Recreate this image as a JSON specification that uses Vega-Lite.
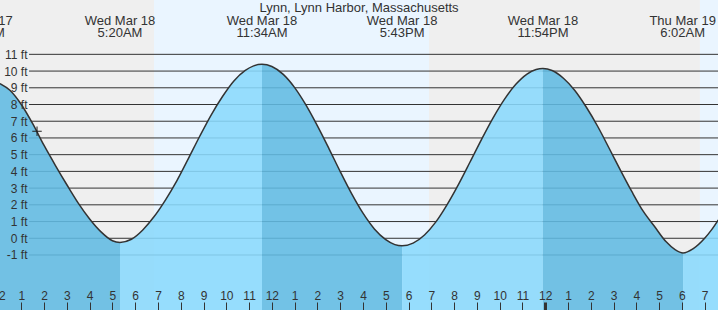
{
  "$schema": "https://vega.github.io/schema/vega-lite/v6.json",
  "width": 718,
  "height": 310,
  "autosize": "none",
  "padding": 0,
  "background": "#ffffff",
  "config": {"view": {"stroke": null}, "font": "Liberation Sans"},
  "datasets": {
    "bands": [
      {"start": -1, "end": 6.825, "period": "night"},
      {"start": 6.825, "end": 18.9, "period": "day"},
      {"start": 18.9, "end": 30.79, "period": "night"},
      {"start": 30.79, "end": 32, "period": "day"}
    ],
    "grid": [{"ft": -1}, {"ft": 0}, {"ft": 1}, {"ft": 2}, {"ft": 3}, {"ft": 4}, {"ft": 5}, {"ft": 6}, {"ft": 7}, {"ft": 8}, {"ft": 9}, {"ft": 10}, {"ft": 11}],
    "heading": [{"t": 15.825, "label": "Lynn, Lynn Harbor, Massachusetts"}],
    "events": [
      {"t": -0.82, "label": "Tue Mar 17\n11:11PM"},
      {"t": 5.333, "label": "Wed Mar 18\n5:20AM"},
      {"t": 11.567, "label": "Wed Mar 18\n11:34AM"},
      {"t": 17.717, "label": "Wed Mar 18\n5:43PM"},
      {"t": 23.9, "label": "Wed Mar 18\n11:54PM"},
      {"t": 30.033, "label": "Thu Mar 19\n6:02AM"}
    ],
    "curve": [
      {"t": 0.065, "ft": 9.25}, {"t": 0.5, "ft": 8.85}, {"t": 1.0, "ft": 8.0}, {"t": 1.5, "ft": 6.85}, {"t": 2.0, "ft": 5.55}, {"t": 2.5, "ft": 4.35}, {"t": 3.0, "ft": 3.2}, {"t": 3.5, "ft": 2.1}, {"t": 4.0, "ft": 1.15}, {"t": 4.5, "ft": 0.38}, {"t": 5.0, "ft": -0.15}, {"t": 5.333, "ft": -0.25},
      {"t": 5.833, "ft": -0.06}, {"t": 6.333, "ft": 0.5}, {"t": 6.833, "ft": 1.3}, {"t": 7.333, "ft": 2.3}, {"t": 7.833, "ft": 3.45}, {"t": 8.333, "ft": 4.76}, {"t": 8.833, "ft": 6.1}, {"t": 9.333, "ft": 7.37}, {"t": 9.833, "ft": 8.48}, {"t": 10.333, "ft": 9.41}, {"t": 10.833, "ft": 10.04}, {"t": 11.2, "ft": 10.31}, {"t": 11.567, "ft": 10.4},
      {"t": 12.0, "ft": 10.27}, {"t": 12.5, "ft": 9.8}, {"t": 13.0, "ft": 9.01}, {"t": 13.5, "ft": 7.96}, {"t": 14.0, "ft": 6.72}, {"t": 14.5, "ft": 5.38}, {"t": 15.0, "ft": 3.99}, {"t": 15.5, "ft": 2.67}, {"t": 16.0, "ft": 1.5}, {"t": 16.5, "ft": 0.56}, {"t": 17.0, "ft": -0.08}, {"t": 17.4, "ft": -0.38}, {"t": 17.717, "ft": -0.45},
      {"t": 18.2, "ft": -0.29}, {"t": 18.7, "ft": 0.2}, {"t": 19.2, "ft": 0.98}, {"t": 19.7, "ft": 2.03}, {"t": 20.2, "ft": 3.24}, {"t": 20.7, "ft": 4.56}, {"t": 21.2, "ft": 5.9}, {"t": 21.7, "ft": 7.17}, {"t": 22.2, "ft": 8.29}, {"t": 22.7, "ft": 9.19}, {"t": 23.2, "ft": 9.82}, {"t": 23.6, "ft": 10.09}, {"t": 23.9, "ft": 10.15},
      {"t": 24.3, "ft": 10.03}, {"t": 24.8, "ft": 9.57}, {"t": 25.3, "ft": 8.84}, {"t": 25.8, "ft": 7.85}, {"t": 26.3, "ft": 6.7}, {"t": 26.8, "ft": 5.4}, {"t": 27.3, "ft": 4.08}, {"t": 27.8, "ft": 2.8}, {"t": 28.3, "ft": 1.62}, {"t": 28.8, "ft": 0.7}, {"t": 29.3, "ft": -0.2}, {"t": 29.7, "ft": -0.68}, {"t": 30.05, "ft": -0.88},
      {"t": 30.5, "ft": -0.62}, {"t": 31.0, "ft": 0.0}, {"t": 31.3, "ft": 0.5}, {"t": 31.6, "ft": 1.1}
    ],
    "water": [
      {"seg": "e0", "t": 0.065, "ft": 9.25}, {"seg": "e0", "t": 0.5, "ft": 8.85}, {"seg": "e0", "t": 1.0, "ft": 8.0}, {"seg": "e0", "t": 1.5, "ft": 6.85}, {"seg": "e0", "t": 2.0, "ft": 5.55}, {"seg": "e0", "t": 2.5, "ft": 4.35}, {"seg": "e0", "t": 3.0, "ft": 3.2}, {"seg": "e0", "t": 3.5, "ft": 2.1}, {"seg": "e0", "t": 4.0, "ft": 1.15}, {"seg": "e0", "t": 4.5, "ft": 0.38}, {"seg": "e0", "t": 5.0, "ft": -0.15}, {"seg": "e0", "t": 5.333, "ft": -0.25},
      {"seg": "f1", "t": 5.333, "ft": -0.25}, {"seg": "f1", "t": 5.833, "ft": -0.06}, {"seg": "f1", "t": 6.333, "ft": 0.5}, {"seg": "f1", "t": 6.833, "ft": 1.3}, {"seg": "f1", "t": 7.333, "ft": 2.3}, {"seg": "f1", "t": 7.833, "ft": 3.45}, {"seg": "f1", "t": 8.333, "ft": 4.76}, {"seg": "f1", "t": 8.833, "ft": 6.1}, {"seg": "f1", "t": 9.333, "ft": 7.37}, {"seg": "f1", "t": 9.833, "ft": 8.48}, {"seg": "f1", "t": 10.333, "ft": 9.41}, {"seg": "f1", "t": 10.833, "ft": 10.04}, {"seg": "f1", "t": 11.2, "ft": 10.31}, {"seg": "f1", "t": 11.567, "ft": 10.4},
      {"seg": "e1", "t": 11.567, "ft": 10.4}, {"seg": "e1", "t": 12.0, "ft": 10.27}, {"seg": "e1", "t": 12.5, "ft": 9.8}, {"seg": "e1", "t": 13.0, "ft": 9.01}, {"seg": "e1", "t": 13.5, "ft": 7.96}, {"seg": "e1", "t": 14.0, "ft": 6.72}, {"seg": "e1", "t": 14.5, "ft": 5.38}, {"seg": "e1", "t": 15.0, "ft": 3.99}, {"seg": "e1", "t": 15.5, "ft": 2.67}, {"seg": "e1", "t": 16.0, "ft": 1.5}, {"seg": "e1", "t": 16.5, "ft": 0.56}, {"seg": "e1", "t": 17.0, "ft": -0.08}, {"seg": "e1", "t": 17.4, "ft": -0.38}, {"seg": "e1", "t": 17.717, "ft": -0.45},
      {"seg": "f2", "t": 17.717, "ft": -0.45}, {"seg": "f2", "t": 18.2, "ft": -0.29}, {"seg": "f2", "t": 18.7, "ft": 0.2}, {"seg": "f2", "t": 19.2, "ft": 0.98}, {"seg": "f2", "t": 19.7, "ft": 2.03}, {"seg": "f2", "t": 20.2, "ft": 3.24}, {"seg": "f2", "t": 20.7, "ft": 4.56}, {"seg": "f2", "t": 21.2, "ft": 5.9}, {"seg": "f2", "t": 21.7, "ft": 7.17}, {"seg": "f2", "t": 22.2, "ft": 8.29}, {"seg": "f2", "t": 22.7, "ft": 9.19}, {"seg": "f2", "t": 23.2, "ft": 9.82}, {"seg": "f2", "t": 23.6, "ft": 10.09}, {"seg": "f2", "t": 23.9, "ft": 10.15},
      {"seg": "e2", "t": 23.9, "ft": 10.15}, {"seg": "e2", "t": 24.3, "ft": 10.03}, {"seg": "e2", "t": 24.8, "ft": 9.57}, {"seg": "e2", "t": 25.3, "ft": 8.84}, {"seg": "e2", "t": 25.8, "ft": 7.85}, {"seg": "e2", "t": 26.3, "ft": 6.7}, {"seg": "e2", "t": 26.8, "ft": 5.4}, {"seg": "e2", "t": 27.3, "ft": 4.08}, {"seg": "e2", "t": 27.8, "ft": 2.8}, {"seg": "e2", "t": 28.3, "ft": 1.62}, {"seg": "e2", "t": 28.8, "ft": 0.7}, {"seg": "e2", "t": 29.3, "ft": -0.2}, {"seg": "e2", "t": 29.7, "ft": -0.68}, {"seg": "e2", "t": 30.05, "ft": -0.88},
      {"seg": "f3", "t": 30.05, "ft": -0.88}, {"seg": "f3", "t": 30.5, "ft": -0.62}, {"seg": "f3", "t": 31.0, "ft": 0.0}, {"seg": "f3", "t": 31.3, "ft": 0.5}, {"seg": "f3", "t": 31.6, "ft": 1.1}
    ]
  },
  "resolve": {"scale": {"color": "independent"}},
  "layer": [
    {
      "data": {"name": "bands"},
      "mark": {"type": "rect"},
      "encoding": {
        "x": {"field": "start", "type": "quantitative", "scale": {"domain": [0, 31.585], "range": [-1.48, 718], "nice": false, "zero": false}, "axis": {"orient": "top", "offset": -310, "values": [0,1,2,3,4,5,6,7,8,9,10,11,12,13,14,15,16,17,18,19,20,21,22,23,24,25,26,27,28,29,30,31], "tickCount": 100, "labelExpr": "datum.value % 12 == 0 ? '12' : '' + (datum.value % 12)", "domain": false, "grid": false, "tickSize": 8, "tickColor": "#333333", "tickWidth": {"condition": {"test": "datum.value == 24", "value": 3}, "value": 1}, "labelPadding": 0, "labelFlush": false, "labelOverlap": false, "labelBound": false, "labelFontSize": 12, "labelFont": "Liberation Sans", "labelColor": "#333333", "zindex": 1, "title": null}},
        "x2": {"field": "end"},
        "color": {"field": "period", "type": "nominal", "scale": {"domain": ["night", "day"], "range": ["#efefef", "#eaf5ff"]}, "legend": null}
      }
    },
    {
      "data": {"name": "grid"},
      "mark": {"type": "rule", "color": "#333333", "strokeWidth": 1},
      "encoding": {
        "y": {"field": "ft", "type": "quantitative", "scale": {"domain": [-4.29, 14.25], "nice": false, "zero": false}, "axis": {"orient": "left", "offset": -27, "values": [-1,0,1,2,3,4,5,6,7,8,9,10,11], "tickCount": 100, "labelExpr": "datum.value + ' ft'", "domain": false, "ticks": false, "grid": false, "labelPadding": 0, "labelOverlap": false, "labelFontSize": 12, "labelFont": "Liberation Sans", "labelColor": "#333333", "labelBaseline": "middle", "zindex": 1, "title": null}},
        "x": {"datum": 1.34},
        "x2": {"datum": 31.585}
      }
    },
    {
      "data": {"name": "water"},
      "mark": {"type": "area", "interpolate": "monotone", "opacity": 0.88, "clip": true},
      "encoding": {
        "x": {"field": "t", "type": "quantitative"},
        "y": {"field": "ft", "type": "quantitative", "stack": null},
        "y2": {"datum": -4.29},
        "detail": {"field": "seg"},
        "color": {"field": "seg", "type": "nominal", "scale": {"domain": ["e0", "f1", "e1", "f2", "e2", "f3"], "range": ["#61bbe3", "#8ad9fd", "#61bbe3", "#8ad9fd", "#61bbe3", "#8ad9fd"]}, "legend": null}
      }
    },
    {
      "data": {"name": "curve"},
      "mark": {"type": "line", "interpolate": "monotone", "color": "#333333", "strokeWidth": 1.5, "clip": true},
      "encoding": {
        "x": {"field": "t", "type": "quantitative"},
        "y": {"field": "ft", "type": "quantitative"}
      }
    },
    {
      "data": {"values": [{"t": 1.69, "ft": 6.4}]},
      "mark": {"type": "point", "shape": "M-1,0H1M0,-1V1", "size": 90, "filled": false, "color": "#222222", "strokeWidth": 1, "opacity": 1},
      "encoding": {
        "x": {"field": "t", "type": "quantitative"},
        "y": {"field": "ft", "type": "quantitative"}
      }
    },
    {
      "data": {"name": "events"},
      "mark": {"type": "text", "lineBreak": "\n", "fontSize": 13, "font": "Liberation Sans", "color": "#333333", "baseline": "alphabetic", "align": "center", "lineHeight": 12},
      "encoding": {
        "x": {"field": "t", "type": "quantitative"},
        "y": {"datum": 12.77},
        "text": {"field": "label"}
      }
    },
    {
      "data": {"name": "heading"},
      "mark": {"type": "text", "fontSize": 13, "font": "Liberation Sans", "color": "#333333", "baseline": "alphabetic", "align": "center"},
      "encoding": {
        "x": {"field": "t", "type": "quantitative"},
        "y": {"datum": 13.53},
        "text": {"field": "label"}
      }
    }
  ]
}
